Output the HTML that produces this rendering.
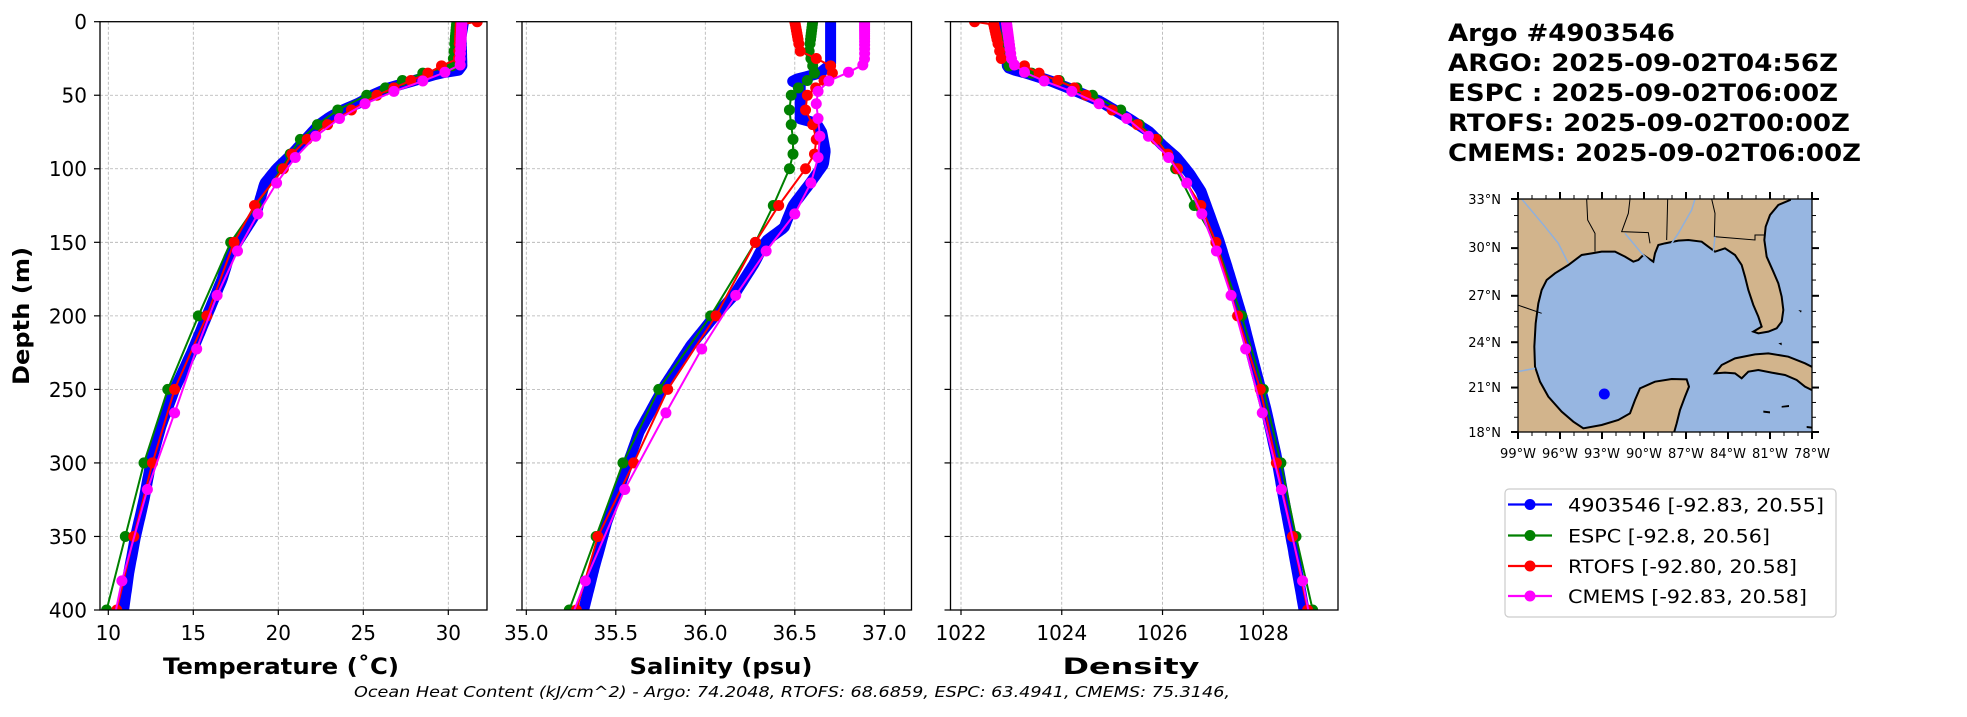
<!DOCTYPE html>
<html><head><meta charset="utf-8"><style>
html,body{margin:0;padding:0;background:#fff;}
svg text{font-family:"DejaVu Sans","Liberation Sans",sans-serif;}
</style></head><body>
<svg id="s" xmlns="http://www.w3.org/2000/svg" width="1967" height="712" viewBox="0 0 1967 712">
<defs>
<clipPath id="c1"><rect x="100" y="21.7" width="387" height="588.3"/></clipPath>
<clipPath id="c2"><rect x="522" y="21.7" width="389.5" height="588.3"/></clipPath>
<clipPath id="c3"><rect x="950.5" y="21.7" width="387.5" height="588.3"/></clipPath>
<clipPath id="cm"><rect x="1518" y="199" width="294" height="233"/></clipPath>
</defs>
<rect width="1967" height="712" fill="#fff"/>
<g id="grid" stroke="#b0b0b0" stroke-width="0.8" stroke-dasharray="3,2"></g>
<g id="data"></g>
<g id="axes" fill="none" stroke="#000" stroke-width="1.3">
<rect x="100" y="21.7" width="387" height="588.3"/>
<rect x="522" y="21.7" width="389.5" height="588.3"/>
<rect x="950.5" y="21.7" width="387.5" height="588.3"/>
</g>
<g id="ticks" stroke="#000" stroke-width="1.2"></g>
<g font-size="20" fill="#000" text-anchor="end">
<text x="87" y="29">0</text><text x="87" y="102.5">50</text><text x="87" y="176">100</text><text x="87" y="250">150</text><text x="87" y="323.5">200</text><text x="87" y="397">250</text><text x="87" y="470.5">300</text><text x="87" y="544">350</text><text x="87" y="617.5">400</text>
</g>
<g font-size="20" fill="#000" text-anchor="middle">
<text x="108.3" y="640">10</text><text x="193.3" y="640">15</text><text x="278.3" y="640">20</text><text x="363.3" y="640">25</text><text x="448.3" y="640">30</text>
<text x="526.3" y="640">35.0</text><text x="615.8" y="640">35.5</text><text x="705.3" y="640">36.0</text><text x="794.8" y="640">36.5</text><text x="884.3" y="640">37.0</text>
<text x="961" y="640">1022</text><text x="1061.8" y="640">1024</text><text x="1162.2" y="640">1026</text><text x="1263.3" y="640">1028</text>
</g>
<g font-size="22" font-weight="bold" fill="#000" text-anchor="middle">
<text x="281" y="674" textLength="236" lengthAdjust="spacingAndGlyphs">Temperature (˚C)</text>
<text x="721" y="674" textLength="183" lengthAdjust="spacingAndGlyphs">Salinity (psu)</text>
<text x="1131" y="674" textLength="137" lengthAdjust="spacingAndGlyphs">Density</text>
<text transform="translate(29,316) rotate(-90)" textLength="138" lengthAdjust="spacingAndGlyphs">Depth (m)</text>
</g>
<text x="792" y="697" font-size="15" font-style="italic" text-anchor="middle" textLength="876" lengthAdjust="spacingAndGlyphs">Ocean Heat Content (kJ/cm^2) - Argo: 74.2048,  RTOFS: 68.6859,  ESPC: 63.4941,  CMEMS: 75.3146,</text>

<g font-size="24" font-weight="bold" fill="#000">
<text x="1448" y="41" textLength="227" lengthAdjust="spacingAndGlyphs">Argo #4903546</text>
<text x="1448" y="71" textLength="390" lengthAdjust="spacingAndGlyphs">ARGO: 2025-09-02T04:56Z</text>
<text x="1448" y="101" textLength="390" lengthAdjust="spacingAndGlyphs">ESPC : 2025-09-02T06:00Z</text>
<text x="1448" y="131" textLength="402" lengthAdjust="spacingAndGlyphs">RTOFS: 2025-09-02T00:00Z</text>
<text x="1448" y="161" textLength="413" lengthAdjust="spacingAndGlyphs">CMEMS: 2025-09-02T06:00Z</text>
</g>

<!-- map -->
<g clip-path="url(#cm)">
<rect x="1518" y="199" width="294" height="233" fill="#97b6e1"/>
<g transform="translate(1515,190) scale(0.333333)">
<path fill="#d2b48c" stroke="#000" stroke-width="2" vector-effect="non-scaling-stroke" d="M0,0 L830,0 L825,30 L790,45 L765,75 L752,110 L748,150 L755,200 L775,245 L790,280 L800,320 L805,360 L800,395 L785,415 L760,425 L730,430 L715,425 L740,410 L730,380 L715,345 L700,300 L690,260 L680,225 L660,195 L630,175 L600,185 L580,170 L560,155 L520,150 L490,152 L450,160 L430,165 L420,190 L415,215 L400,205 L385,195 L370,210 L355,215 L330,200 L300,185 L260,185 L230,190 L200,195 L160,225 L120,250 L95,270 L80,300 L70,340 L62,400 L58,470 L60,530 L75,575 L100,620 L140,665 L175,695 L205,715 L260,705 L310,690 L345,670 L360,630 L375,595 L420,575 L470,567 L515,568 L522,590 L510,620 L495,660 L485,700 L478,725 L478,760 L0,760 Z"/>
<path fill="#d2b48c" stroke="#000" stroke-width="2" vector-effect="non-scaling-stroke" d="M600,550 L620,525 L660,505 L720,493 L760,490 L820,500 L870,520 L900,535 L900,605 L870,590 L845,570 L810,555 L770,548 L730,540 L700,545 L680,565 L660,550 L630,548 Z"/>
<path fill="#000" d="M745,662 L765,664 L765,670 L745,668 Z M800,648 L822,645 L822,651 L800,653 Z M875,708 L892,710 L892,716 L875,714 Z M850,360 L860,362 L858,368 Z M790,460 L800,458 L800,466 Z"/>
<g fill="none" stroke="#000" stroke-width="1" vector-effect="non-scaling-stroke">
<path d="M215,27 L218,90 L240,130 L240,185" vector-effect="non-scaling-stroke"/>
<path d="M345,27 L340,70 L320,125 L400,128 L405,160" vector-effect="non-scaling-stroke"/>
<path d="M458,27 L455,150" vector-effect="non-scaling-stroke"/>
<path d="M590,27 L600,70 L598,140 L720,150 L720,135 L750,135" vector-effect="non-scaling-stroke"/>
<path d="M8,345 L80,370" vector-effect="non-scaling-stroke"/>
</g>
<g fill="none" stroke="#8fb0dd" stroke-width="1.5" vector-effect="non-scaling-stroke">
<path d="M20,27 L90,110 L130,160 L160,220" vector-effect="non-scaling-stroke"/>
<path d="M8,545 L60,535" vector-effect="non-scaling-stroke"/>
<path d="M540,27 L530,60 L490,130 L470,160" vector-effect="non-scaling-stroke"/>
<path d="M330,130 L380,190 L410,220" vector-effect="non-scaling-stroke"/>
<path d="M600,140 L595,185" vector-effect="non-scaling-stroke"/>
</g>
</g>
<circle cx="1604.3" cy="394" r="5.5" fill="#0000ff"/>
</g>
<rect x="1518" y="199" width="294" height="233" fill="none" stroke="#000" stroke-width="1.3"/>
<g id="mapticks" stroke="#000"></g>
<g font-size="13" fill="#000" text-anchor="end">
<text x="1501" y="204">33°N</text><text x="1501" y="252">30°N</text><text x="1501" y="300">27°N</text><text x="1501" y="347">24°N</text><text x="1501" y="392">21°N</text><text x="1501" y="437">18°N</text>
</g>
<g font-size="13" fill="#000" text-anchor="middle">
<text x="1518" y="458">99°W</text><text x="1560" y="458">96°W</text><text x="1602" y="458">93°W</text><text x="1644" y="458">90°W</text><text x="1686" y="458">87°W</text><text x="1728" y="458">84°W</text><text x="1770" y="458">81°W</text><text x="1812" y="458">78°W</text>
</g>

<!-- legend -->
<rect x="1505" y="489" width="331" height="128" rx="4" fill="#fff" stroke="#cccccc" stroke-width="1.2"/>
<g stroke-width="2.2">
<line x1="1508" y1="504.5" x2="1552" y2="504.5" stroke="#0000ff"/><circle cx="1530" cy="504.5" r="5.5" fill="#0000ff"/>
<line x1="1508" y1="535.5" x2="1552" y2="535.5" stroke="#008000"/><circle cx="1530" cy="535.5" r="5.5" fill="#008000"/>
<line x1="1508" y1="566" x2="1552" y2="566" stroke="#ff0000"/><circle cx="1530" cy="566" r="5.5" fill="#ff0000"/>
<line x1="1508" y1="596" x2="1552" y2="596" stroke="#ff00ff"/><circle cx="1530" cy="596" r="5.5" fill="#ff00ff"/>
</g>
<g font-size="19" fill="#000">
<text x="1568" y="511.5" textLength="256" lengthAdjust="spacingAndGlyphs">4903546 [-92.83, 20.55]</text>
<text x="1568" y="542.5" textLength="202" lengthAdjust="spacingAndGlyphs">ESPC [-92.8, 20.56]</text>
<text x="1568" y="573" textLength="229" lengthAdjust="spacingAndGlyphs">RTOFS [-92.80, 20.58]</text>
<text x="1568" y="603" textLength="239" lengthAdjust="spacingAndGlyphs">CMEMS [-92.83, 20.58]</text>
</g>
</svg>
<script>
(function(){
var NS="http://www.w3.org/2000/svg";
function el(p,n,a){var e=document.createElementNS(NS,n);for(var k in a)e.setAttribute(k,a[k]);p.appendChild(e);return e;}
var Y0=21.7,YS=(610-21.7)/400;function yd(d){return Y0+d*YS;}
var P=[
 {x0:108.3,v0:10,s:17.0,clip:'c1',l:100,r:487,ticks:[10,15,20,25,30]},
 {x0:526.3,v0:35,s:179,clip:'c2',l:522,r:911.5,ticks:[35,35.5,36,36.5,37]},
 {x0:961,v0:1022,s:50.38,clip:'c3',l:950.5,r:1338,ticks:[1022,1024,1026,1028]}];
var grid=document.getElementById('grid'),tk=document.getElementById('ticks'),data=document.getElementById('data');
P.forEach(function(p){
 p.ticks.forEach(function(t){var x=p.x0+(t-p.v0)*p.s;el(grid,'line',{x1:x,y1:Y0,x2:x,y2:610});el(tk,'line',{x1:x,y1:610,x2:x,y2:615});});
 for(var d=50;d<400;d+=50){el(grid,'line',{x1:p.l,y1:yd(d),x2:p.r,y2:yd(d)});}
 for(var d=0;d<=400;d+=50){el(tk,'line',{x1:p.l-6,y1:yd(d),x2:p.l,y2:yd(d)});}
});
function interp(k,d){if(d<=k[0][0])return k[0][1];for(var i=1;i<k.length;i++){if(d<=k[i][0]){var a=k[i-1],b=k[i];return a[1]+(b[1]-a[1])*(d-a[0])/(b[0]-a[0]);}}return k[k.length-1][1];}
var argoD=[];for(var d=0;d<=400;d+=1.5)argoD.push(d);
var hy=[0,2,4,6,8,10,12,15,20,25,30,35,40,45,50,60,70,80,90,100,125,150,200,250,300,350,400];
var cm=[0.5,1.5,2.6,3.8,5.1,6.4,7.9,9.6,11.4,13.5,15.8,18.5,21.6,25.2,29.4,34.4,40.3,47.4,55.8,65.8,77.9,92.3,109.7,130.7,155.9,186.1,222.5,266,318.1,380.2,453.9];
var K={
T:{b:[[0,30.9],[10,30.75],[30,30.8],[33,30.6],[35,29.5],[40,28],[45,26.5],[50,25.5],[55,24.8],[60,23.8],[65,23],[70,22.4],[80,21.6],[90,20.8],[100,19.9],[110,19.2],[130,18.7],[150,17.6],[160,17.1],[175,16.7],[200,15.8],[225,14.9],[250,13.9],[275,13.1],[300,12.5],[325,12.1],[350,11.6],[375,11.2],[400,10.9]],
 g:[[0,30.5],[25,30.3],[30,30.2],[35,28.5],[40,27.3],[45,26.3],[50,25.2],[60,23.5],[70,22.3],[80,21.3],[90,20.7],[100,20.2],[125,18.7],[150,17.2],[200,15.3],[250,13.5],[300,12.1],[350,11.0],[400,9.9]],
 r:[[0,31.7],[2,30.7],[25,30.6],[30,29.6],[35,28.8],[40,27.8],[45,26.8],[50,25.8],[60,24.3],[70,22.9],[80,21.7],[90,20.8],[100,20.3],[125,18.6],[150,17.4],[200,15.8],[250,13.9],[300,12.6],[350,11.5],[400,10.5]],
 m:[[0,30.8],[25,30.7],[29.4,30.7],[34.4,29.8],[40.3,28.5],[47.4,26.8],[55.8,25.1],[65.8,23.6],[77.9,22.2],[92.3,21.0],[109.7,19.9],[130.7,18.8],[155.9,17.6],[186.1,16.4],[222.5,15.2],[266,13.9],[318.1,12.3],[380.2,10.8],[453.9,9.5]]},
S:{b:[[0,36.70],[29,36.70],[35,36.64],[40,36.48],[43,36.53],[66,36.53],[69,36.62],[75,36.65],[88,36.67],[97,36.66],[109,36.59],[125,36.49],[140,36.44],[149,36.34],[165,36.27],[186,36.16],[202,36.04],[220,35.92],[248,35.77],[279,35.63],[310,35.54],[340,35.45],[371,35.38],[400,35.32]],
 g:[[0,36.6],[20,36.58],[30,36.6],[35,36.61],[40,36.57],[45,36.52],[50,36.48],[60,36.47],[70,36.48],[80,36.49],[90,36.49],[100,36.47],[125,36.38],[150,36.28],[200,36.03],[250,35.74],[300,35.54],[350,35.39],[400,35.24]],
 r:[[0,36.50],[20,36.53],[25,36.62],[26,36.64],[30,36.70],[35,36.71],[50,36.57],[60,36.56],[70,36.6],[80,36.62],[90,36.61],[100,36.56],[125,36.41],[150,36.28],[200,36.06],[250,35.79],[300,35.60],[350,35.40],[400,35.28]],
 m:[[0,36.89],[25,36.89],[29.4,36.88],[34.4,36.80],[40.3,36.69],[47.4,36.63],[55.8,36.62],[65.8,36.63],[77.9,36.64],[92.3,36.63],[109.7,36.59],[130.7,36.50],[155.9,36.34],[186.1,36.17],[222.5,35.98],[266,35.78],[318.1,35.55],[380.2,35.33],[453.9,35.1]]},
D:{b:[[0,1022.86],[30,1022.92],[32,1022.96],[35,1023.29],[40,1023.76],[46,1024.2],[54,1024.75],[66,1025.34],[75,1025.74],[84,1026.0],[92,1026.27],[103,1026.53],[115,1026.76],[131,1026.93],[149,1027.12],[171,1027.32],[202,1027.59],[233,1027.82],[263,1028.05],[294,1028.25],[325,1028.41],[356,1028.58],[400,1028.81]],
 g:[[0,1022.9],[30,1022.95],[35,1023.4],[40,1023.95],[45,1024.3],[50,1024.61],[60,1025.17],[70,1025.54],[80,1025.9],[90,1026.1],[100,1026.26],[125,1026.63],[150,1027.06],[200,1027.57],[250,1028.0],[300,1028.35],[350,1028.65],[400,1028.98]],
 r:[[0,1022.27],[2,1022.65],[25,1022.8],[30,1023.26],[35,1023.55],[40,1023.92],[45,1024.25],[50,1024.48],[60,1025.0],[70,1025.5],[80,1025.87],[90,1026.1],[100,1026.3],[125,1026.76],[150,1027.06],[200,1027.49],[250,1027.94],[300,1028.26],[350,1028.58],[400,1028.88]],
 m:[[0,1022.9],[25,1023.0],[29.4,1023.06],[34.4,1023.26],[40.3,1023.65],[47.4,1024.2],[55.8,1024.74],[65.8,1025.29],[77.9,1025.72],[92.3,1026.12],[109.7,1026.48],[130.7,1026.78],[155.9,1027.07],[186.1,1027.36],[222.5,1027.65],[266,1027.98],[318.1,1028.36],[380.2,1028.78],[453.9,1029.2]]}};
var keys=['T','S','D'];
P.forEach(function(p,i){
 var g=el(data,'g',{'clip-path':'url(#'+p.clip+')'});var k=K[keys[i]];
 function X(v){return p.x0+(v-p.v0)*p.s;}
 function series(kn,ds,col,thick){
  var pts=ds.map(function(d){return X(interp(kn,d)).toFixed(1)+','+yd(d).toFixed(1);});
  if(thick){el(g,'polyline',{points:pts.join(' '),fill:'none',stroke:col,'stroke-width':11,'stroke-linejoin':'round','stroke-linecap':'round'});return;}
  el(g,'polyline',{points:pts.join(' '),fill:'none',stroke:col,'stroke-width':2});
  ds.forEach(function(d){el(g,'circle',{cx:X(interp(kn,d)),cy:yd(d),r:5.5,fill:col});});
 }
 series(k.b,argoD,'#0000ff',true);
 series(k.g,hy,'#008000');
 series(k.r,hy,'#ff0000');
 series(k.m,cm,'#ff00ff');
});
var mt=document.getElementById('mapticks');
function mercY(lat){var m=Math.log(Math.tan(Math.PI/4+lat*Math.PI/360));var m18=Math.log(Math.tan(Math.PI/4+18*Math.PI/360));return 432-(m-m18)*800;}
for(var lon=-99;lon<=-78;lon++){var x=1518+(lon+99)*14.0;var maj=((lon+99)%3==0);var L=maj?7:4,w=maj?2:1;
 el(mt,'line',{x1:x,y1:432,x2:x,y2:432+L,'stroke-width':w});el(mt,'line',{x1:x,y1:199,x2:x,y2:199-L,'stroke-width':w});}
for(var lat=18;lat<=33;lat++){var y=mercY(lat);var maj=((lat-18)%3==0);var L=maj?7:4,w=maj?2:1;
 el(mt,'line',{x1:1518-L,y1:y,x2:1518,y2:y,'stroke-width':w});el(mt,'line',{x1:1812,y1:y,x2:1812+L,y2:y,'stroke-width':w});}
})();
</script>
</body></html>
